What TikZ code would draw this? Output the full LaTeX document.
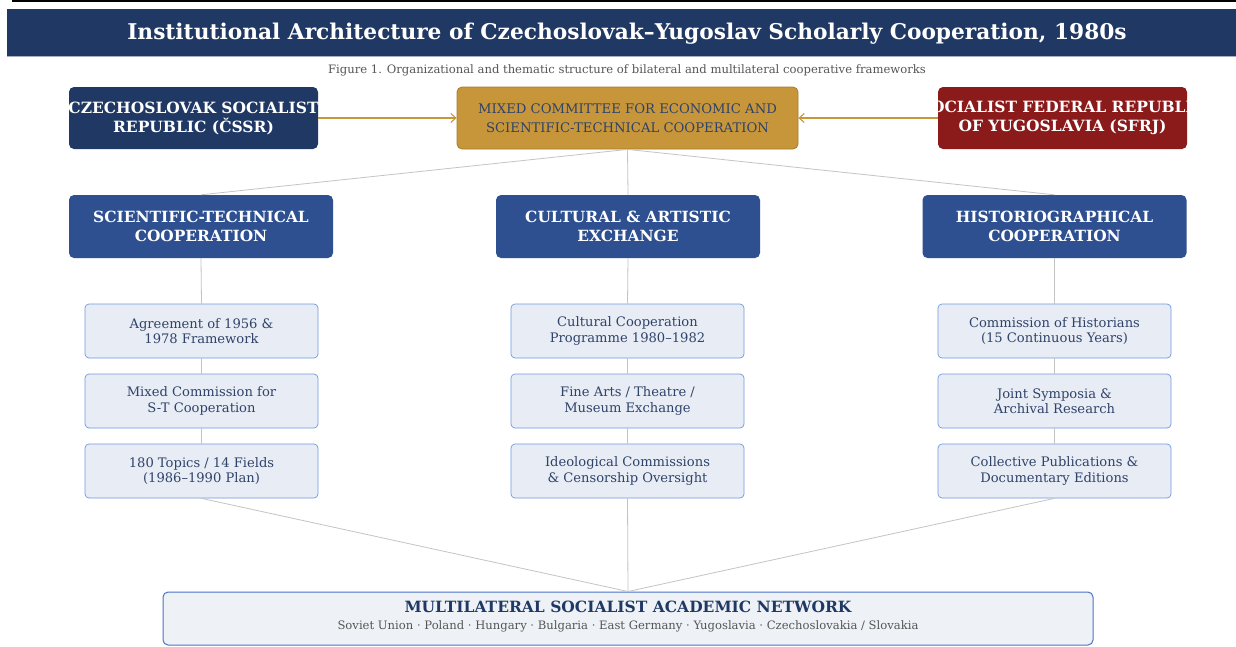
\documentclass[tikz,border=0pt]{standalone}
\usepackage{fontspec}
\setmainfont{DejaVu Serif}
\usetikzlibrary{arrows.meta}
\definecolor{navy}{HTML}{1F3864}
\definecolor{gold}{HTML}{C8963A}
\definecolor{goldline}{HTML}{A87C2C}
\definecolor{redc}{HTML}{8B1A1A}
\definecolor{catblue}{HTML}{2E5090}
\definecolor{subfill}{HTML}{E8EDF5}
\definecolor{subline}{HTML}{6F98E0}
\definecolor{subtext}{HTML}{2F4268}
\definecolor{netfill}{HTML}{EEF2F7}
\definecolor{netline}{HTML}{4A74C8}
\definecolor{conn}{HTML}{C4C4C4}
\definecolor{captxt}{HTML}{555555}
\tikzset{
  boxbase/.style={rectangle, align=center, inner sep=0pt},
  topbox/.style={boxbase, rounded corners=5pt, minimum width=249pt, minimum height=62pt},
  toptext/.style={boxbase, text=white, font=\fontsize{15.5}{19}\selectfont\bfseries},
  midbox/.style={boxbase, rounded corners=5pt, minimum width=341pt, minimum height=62pt, fill=gold, draw=goldline, line width=0.8pt, text=subtext, font=\fontsize{13.2}{19}\selectfont},
  catbox/.style={boxbase, rounded corners=5pt, minimum width=264pt, minimum height=63pt, fill=catblue, text=white, font=\fontsize{15.4}{19}\selectfont\bfseries},
  subbox/.style={boxbase, rounded corners=4pt, minimum width=233pt, minimum height=54pt, fill=subfill, draw=subline, line width=0.7pt, text=subtext, font=\fontsize{13.1}{15.5}\selectfont},
  netbox/.style={boxbase, rounded corners=5pt, minimum width=930pt, minimum height=53pt, fill=netfill, draw=netline, line width=1pt},
  connector/.style={draw=conn, line width=0.8pt},
  feed/.style={draw=gold, line width=1.1pt, -{Straight Barb[length=5pt,width=9pt]}},
}
\begin{document}
\begin{tikzpicture}[x=1pt,y=-1pt]
\useasboundingbox (0,0) rectangle (1236,646);
\fill[white] (0,0) rectangle (1236,646);
% top rule and title bar
\coordinate (rl) at (12,1);
\coordinate (rr) at (1236,1);
\draw[black, line width=2.2pt] (rl) -- (rr);
\fill[navy] (7,9) rectangle (1236,56);
\draw[color=navy!40, line width=1.4pt] (7,56.5) -- (1236,56.5);
\node[boxbase, text=white, font=\fontsize{21.7}{24}\selectfont\bfseries] (title) at (627,33.5) {Institutional Architecture of Czechoslovak–Yugoslav Scholarly Cooperation, 1980s};
\node[boxbase, text=captxt, font=\fontsize{11.6}{13}\selectfont] (caption) at (627,70) {Figure 1. Organizational and thematic structure of bilateral and multilateral cooperative frameworks};
% top row
\node[topbox, fill=navy] (cssr) at (193.5,118) {};
\begin{scope}
\clip[rounded corners=5pt] (cssr.south west) rectangle (cssr.north east);
\node[toptext] (cssrt) at (cssr.center) {CZECHOSLOVAK SOCIALIST\\REPUBLIC (ČSSR)};
\end{scope}
\node[topbox, fill=redc] (sfrj) at (1062.5,118) {};
\begin{scope}
\clip[rounded corners=5pt] (sfrj.south west) rectangle (sfrj.north east);
\node[toptext] (sfrjt) at (sfrj.center) {SOCIALIST FEDERAL REPUBLIC\\OF YUGOSLAVIA (SFRJ)};
\end{scope}
\node[midbox] (mixed) at (627.5,118) {MIXED COMMITTEE FOR ECONOMIC AND\\SCIENTIFIC-TECHNICAL COOPERATION};
\draw[feed] (cssr.east) -- (mixed.west);
\draw[feed] (sfrj.west) -- (mixed.east);
% categories
\node[catbox] (cat1) at (201,226.5) {SCIENTIFIC-TECHNICAL\\COOPERATION};
\node[catbox] (cat2) at (628,226.5) {CULTURAL \& ARTISTIC\\EXCHANGE};
\node[catbox] (cat3) at (1054.5,226.5) {HISTORIOGRAPHICAL\\COOPERATION};
\draw[connector] (mixed.south) -- (cat1.north);
\draw[connector] (mixed.south) -- (cat2.north);
\draw[connector] (mixed.south) -- (cat3.north);
% sub boxes
\node[subbox] (a1) at (201.5,331) {Agreement of 1956 \&\\1978 Framework};
\node[subbox] (a2) at (201.5,401) {Mixed Commission for\\S-T Cooperation};
\node[subbox] (a3) at (201.5,471) {180 Topics / 14 Fields\\(1986–1990 Plan)};
\node[subbox] (b1) at (627.5,331) {Cultural Cooperation\\Programme 1980–1982};
\node[subbox] (b2) at (627.5,401) {Fine Arts / Theatre /\\Museum Exchange};
\node[subbox] (b3) at (627.5,471) {Ideological Commissions\\\& Censorship Oversight};
\node[subbox] (c1) at (1054.5,331) {Commission of Historians\\(15 Continuous Years)};
\node[subbox] (c2) at (1054.5,401) {Joint Symposia \&\\Archival Research};
\node[subbox] (c3) at (1054.5,471) {Collective Publications \&\\Documentary Editions};
\draw[connector] (cat1.south) -- (a1.north);
\draw[connector] (a1.south) -- (a2.north);
\draw[connector] (a2.south) -- (a3.north);
\draw[connector] (cat2.south) -- (b1.north);
\draw[connector] (b1.south) -- (b2.north);
\draw[connector] (b2.south) -- (b3.north);
\draw[connector] (cat3.south) -- (c1.north);
\draw[connector] (c1.south) -- (c2.north);
\draw[connector] (c2.south) -- (c3.north);
% network
\node[netbox] (net) at (628,618.5) {};
\node[boxbase, text=navy, font=\fontsize{15.5}{18}\selectfont\bfseries] (nettitle) at (628,607) {MULTILATERAL SOCIALIST ACADEMIC NETWORK};
\node[boxbase, text=captxt, font=\fontsize{11.6}{13}\selectfont] (netsub) at (628,626.5) {Soviet Union · Poland · Hungary · Bulgaria · East Germany · Yugoslavia · Czechoslovakia / Slovakia};
\draw[connector] (a3.south) -- (net.north);
\draw[connector] (b3.south) -- (net.north);
\draw[connector] (c3.south) -- (net.north);
\end{tikzpicture}
\end{document}
